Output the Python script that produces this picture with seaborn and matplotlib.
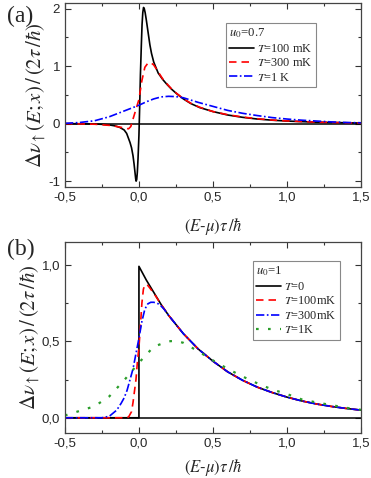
import numpy as np
import pandas as pd
import matplotlib
matplotlib.use("Agg")
import matplotlib.pyplot as plt
import seaborn as sns
from matplotlib.ticker import MultipleLocator, FuncFormatter

# ---- panel (a): u0 = 0.7 ----
a_x_100 = [-0.5, -0.4, -0.3, -0.25, -0.2, -0.16, -0.13, -0.1, -0.083, -0.07, -0.06, -0.05,
           -0.04, -0.033, -0.027, -0.022, -0.019, -0.015, -0.011, -0.006, 0.0, 0.005,
           0.01, 0.016, 0.021, 0.026, 0.031, 0.036, 0.042, 0.05, 0.06, 0.074, 0.085,
           0.1, 0.13, 0.16, 0.19, 0.22, 0.255, 0.3, 0.35, 0.41, 0.5, 0.6, 0.7, 0.8,
           0.9, 1.0, 1.2, 1.5]
a_y_100 = [0.0, -0.002, -0.006, -0.012, -0.022, -0.04, -0.065, -0.11, -0.17, -0.26, -0.33,
           -0.42, -0.56, -0.70, -0.84, -0.96, -1.0, -0.97, -0.85, -0.6, -0.2, 0.3,
           0.85, 1.35, 1.72, 1.93, 2.02, 2.0, 1.93, 1.8, 1.62, 1.37, 1.22,
           1.07, 0.88, 0.77, 0.68, 0.6, 0.52, 0.43, 0.35, 0.28, 0.21, 0.15, 0.11, 0.08,
           0.06, 0.045, 0.025, 0.01]

a_x_300 = [-0.5, -0.3, -0.2, -0.15, -0.1, -0.07, -0.055, -0.04, -0.02, 0.0, 0.02, 0.04,
           0.06, 0.08, 0.1, 0.13, 0.16, 0.19, 0.22, 0.255, 0.3, 0.35, 0.41, 0.5, 0.6,
           0.7, 0.8, 0.9, 1.0, 1.2, 1.5]
a_y_300 = [0.0, -0.01, -0.03, -0.05, -0.075, -0.09, -0.05, 0.08, 0.25, 0.42, 0.75, 0.98,
           1.05, 1.06, 1.02, 0.9, 0.78, 0.69, 0.605, 0.525, 0.435, 0.355, 0.285, 0.21,
           0.155, 0.115, 0.085, 0.062, 0.047, 0.026, 0.01]

a_x_1k = [-0.5, -0.4, -0.3, -0.2, -0.1, 0.0, 0.05, 0.1, 0.15, 0.2, 0.25, 0.3, 0.4, 0.5,
          0.6, 0.7, 0.8, 0.9, 1.0, 1.1, 1.2, 1.3, 1.4, 1.5]
a_y_1k = [0.005, 0.02, 0.05, 0.12, 0.22, 0.32, 0.38, 0.43, 0.465, 0.475, 0.47, 0.45,
          0.37, 0.30, 0.23, 0.18, 0.14, 0.105, 0.08, 0.06, 0.045, 0.03, 0.02, 0.015]

# ---- panel (b): u0 = 1 ----
b_x_0 = [-0.5, 0.0, 0.0, 0.05, 0.1, 0.15, 0.2, 0.3, 0.4, 0.5, 0.6, 0.7, 0.8, 0.9, 1.0,
         1.1, 1.2, 1.3, 1.4, 1.5]
b_y_0 = [0.0, 0.0, 0.99, 0.90, 0.82, 0.74, 0.67, 0.55, 0.45, 0.37, 0.30, 0.245, 0.20,
         0.165, 0.135, 0.11, 0.09, 0.074, 0.061, 0.05]

b_x_100 = [-0.5, -0.1, -0.07, -0.05, -0.04, -0.02, -0.01, 0.0, 0.01, 0.02, 0.03, 0.04,
           0.05, 0.06, 0.08, 0.1, 0.15, 0.2, 0.3, 0.4, 0.5, 0.6, 0.7, 0.8, 0.9, 1.0,
           1.1, 1.2, 1.3, 1.4, 1.5]
b_y_100 = [0.0, 0.0, 0.005, 0.04, 0.1, 0.25, 0.37, 0.46, 0.6, 0.75, 0.84, 0.87,
           0.87, 0.865, 0.84, 0.815, 0.74, 0.67, 0.55, 0.45, 0.37, 0.30, 0.245, 0.20,
           0.165, 0.135, 0.11, 0.09, 0.074, 0.061, 0.05]

b_x_300 = [-0.5, -0.25, -0.2, -0.15, -0.12, -0.1, -0.08, -0.06, -0.04, -0.02, 0.0, 0.02,
           0.04, 0.06, 0.08, 0.1, 0.12, 0.14, 0.17, 0.2, 0.3, 0.4, 0.5, 0.6, 0.7, 0.8,
           0.9, 1.0, 1.1, 1.2, 1.3, 1.4, 1.5]
b_y_300 = [0.0, 0.0, 0.01, 0.05, 0.095, 0.13, 0.18, 0.25, 0.32, 0.42, 0.52, 0.63,
           0.71, 0.745, 0.755, 0.755, 0.75, 0.74, 0.71, 0.67, 0.55, 0.45, 0.37, 0.30,
           0.245, 0.20, 0.165, 0.135, 0.11, 0.09, 0.074, 0.061, 0.05]

b_x_1k = [-0.5, -0.4, -0.3, -0.2, -0.1, 0.0, 0.1, 0.2, 0.25, 0.3, 0.4, 0.5, 0.6, 0.7,
          0.8, 0.9, 1.0, 1.1, 1.2, 1.3, 1.4, 1.5]
b_y_1k = [0.015, 0.045, 0.075, 0.14, 0.245, 0.36, 0.465, 0.50, 0.503, 0.49, 0.435,
          0.375, 0.32, 0.27, 0.225, 0.185, 0.155, 0.12, 0.10, 0.083, 0.065, 0.052]

sns.set_style("ticks")
plt.rcParams["font.family"] = ["Liberation Sans", "DejaVu Sans"]
plt.rcParams["mathtext.fontset"] = "stix"

fig = plt.figure(figsize=(3.71, 4.78), dpi=100)
ax_a = fig.add_axes([0.175, 0.609, 0.798, 0.385])
ax_b = fig.add_axes([0.175, 0.094, 0.798, 0.40])

serif = ["Liberation Serif", "DejaVu Serif"]
dashed = (0, (4.5, 3))
dashdot = (0, (5, 1.5, 1, 1.5))
dotted = (0, (1.2, 4.2))


def draw(ax, x, y, color, ls, label, lw=1.2):
    sns.lineplot(x=x, y=y, ax=ax, color=color, linestyle=ls, linewidth=lw,
                 estimator=None, sort=False, label=label)


def comma(v, pos):
    return f"{v:.1f}".replace(".", ",")


def style_axes(ax, ylim, ymajor, yminor, yfmt, xpad):
    ax.axhline(0, color="black", lw=1.1, zorder=1)
    ax.set_xlim(-0.5, 1.5)
    ax.set_ylim(*ylim)
    ax.xaxis.set_major_locator(MultipleLocator(0.5))
    ax.xaxis.set_minor_locator(MultipleLocator(0.25))
    ax.yaxis.set_major_locator(MultipleLocator(ymajor))
    ax.yaxis.set_minor_locator(MultipleLocator(yminor))
    ax.xaxis.set_major_formatter(FuncFormatter(comma))
    ax.yaxis.set_major_formatter(FuncFormatter(yfmt))
    ax.tick_params(which="both", direction="in", top=True, right=True,
                   labelsize=9.5, width=0.8, color="#333333")
    ax.tick_params(which="major", length=4)
    ax.tick_params(which="minor", length=2)
    for sp in ax.spines.values():
        sp.set_linewidth(0.9)
        sp.set_color("#444444")
    ax.set_xlabel(r"$(E$-$\mu)\tau\,/\hbar$", fontsize=12, labelpad=xpad)
    ax.set_ylabel(r"$\Delta\nu_{\uparrow}(E;x)\,/\,(2\tau\,/\hbar)$", fontsize=15,
                  labelpad=0)


# panel (a)
draw(ax_a, a_x_100, a_y_100, "black", "-", "$T$=100 mK")
draw(ax_a, a_x_300, a_y_300, "red", dashed, "$T$=300 mK")
draw(ax_a, a_x_1k, a_y_1k, "blue", dashdot, "$T$=1 K")
style_axes(ax_a, (-1.1, 2.1), 1, 0.5, lambda v, p: f"{v:.0f}", 9)

# panel (b)
draw(ax_b, b_x_0, b_y_0, "black", "-", "$T$=0")
draw(ax_b, b_x_100, b_y_100, "red", dashed, "$T$=100mK")
draw(ax_b, b_x_300, b_y_300, "blue", dashdot, "$T$=300mK")
draw(ax_b, b_x_1k, b_y_1k, "#2a9d2a", dotted, "$T$=1K", lw=1.6)
style_axes(ax_b, (-0.1, 1.15), 0.5, 0.25, comma, 5)

for ax, title, anchor in [(ax_a, "$u_0$=0.7", (0.848, 0.891)),
                          (ax_b, "$u_0$=1", (0.929, 0.90))]:
    leg = ax.legend(title=title, loc="upper right", bbox_to_anchor=anchor,
                    prop={"family": serif, "size": 8.8}, frameon=True, fancybox=False,
                    edgecolor="#888888", framealpha=1, handlelength=2.0,
                    handletextpad=0.25, borderpad=0.3, labelspacing=0.2,
                    borderaxespad=0)
    leg.get_title().set_fontfamily(serif)
    leg.get_title().set_fontsize(9.2)
    leg._legend_box.align = "left"
    leg.get_frame().set_linewidth(0.8)

fig.text(0.02, 0.988, "(a)", fontsize=17, family=serif, va="top", ha="left")
fig.text(0.02, 0.5, "(b)", fontsize=17, family=serif, va="top", ha="left")

fig.savefig("out.png", dpi=100)
